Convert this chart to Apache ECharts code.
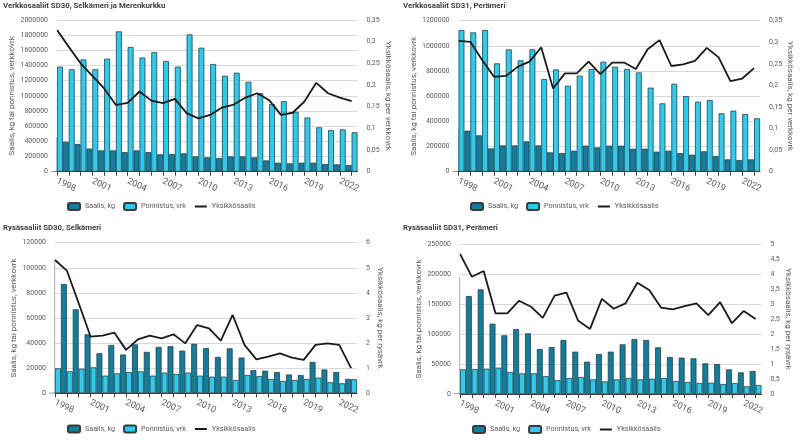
<!DOCTYPE html>
<html><head><meta charset="utf-8">
<script src="https://cdn.jsdelivr.net/npm/echarts@6/dist/echarts.min.js"></script>
<style>html,body{margin:0;padding:0;background:#fff}#c{width:800px;height:441px}</style>
</head><body><div id="c"></div>
<script>
// ---------- data ----------
const years = [1998,1999,2000,2001,2002,2003,2004,2005,2006,2007,2008,2009,2010,2011,2012,2013,2014,2015,2016,2017,2018,2019,2020,2021,2022,2023];
const labelYears = [1998,2001,2004,2007,2010,2013,2016,2019,2022];
const seriesNames = ['Saalis, kg','Ponnistus, vrk','Yksikkösaalis'];

// Verkkosaaliit SD30
const sd30NetCatch  = [453000,395000,365000,305000,281000,281000,259000,281000,259000,229000,233000,242000,202000,189000,180000,202000,202000,189000,149000,119000,110000,119000,119000,101000,97000,88000];
const sd30NetEffort = [1385000,1350000,1480000,1350000,1490000,1850000,1645000,1505000,1575000,1460000,1385000,1810000,1635000,1420000,1265000,1305000,1185000,1035000,890000,930000,790000,715000,585000,550000,558000,520000];
const sd30NetCpue   = [0.327,0.288,0.25,0.221,0.192,0.154,0.159,0.185,0.164,0.158,0.168,0.135,0.123,0.131,0.148,0.155,0.171,0.181,0.165,0.131,0.136,0.162,0.205,0.181,0.171,0.163];

// Verkkosaaliit SD31
const sd31NetCatch  = [340000,326000,289000,185000,209000,209000,241000,209000,154000,148000,167000,207000,193000,207000,207000,183000,183000,159000,167000,148000,135000,162000,125000,98000,93000,98000];
const sd31NetEffort = [1126000,1107000,1126000,861000,972000,885000,972000,736000,813000,683000,763000,816000,874000,834000,816000,789000,668000,543000,699000,601000,556000,570000,464000,485000,458000,424000];
const sd31NetCpue   = [0.303,0.301,0.259,0.220,0.222,0.243,0.255,0.288,0.193,0.228,0.228,0.255,0.226,0.253,0.253,0.238,0.284,0.305,0.245,0.249,0.257,0.287,0.265,0.210,0.216,0.240];

// Rysäsaaliit SD30
const sd30TrapCatch  = [107000,87100,66900,47000,31900,38500,30900,39000,33000,37000,37500,34000,39500,36000,29000,35800,28500,18500,18000,17000,15000,14500,25000,19000,17000,11500];
const sd30TrapEffort = [19900,17500,19600,20700,14100,15900,17000,17500,14100,16500,15400,16500,14100,13300,13300,10600,14600,13800,11400,9800,10600,11400,12500,8800,8000,11200];
const sd30TrapCpue   = [5.31,4.89,3.59,2.26,2.30,2.42,1.73,2.15,2.30,2.19,2.35,1.99,2.72,2.59,2.10,3.12,1.93,1.35,1.46,1.59,1.42,1.33,1.93,1.99,1.93,1.00];

// Rysäsaaliit SD31
const sd31TrapCatch  = [195000,163300,174400,117200,97800,108300,101100,75000,78300,90000,70600,53900,66700,70600,82800,91700,90000,77800,61700,60600,59400,51100,50000,41100,36100,38300];
const sd31TrapEffort = [41100,41700,42200,43900,36700,34400,34400,30000,23300,26700,28300,24400,21100,24400,26700,24400,25600,26700,21700,20000,18300,18900,16700,18300,12800,15000];
const sd31TrapCpue   = [4.67,3.91,4.10,2.69,2.69,3.11,2.91,2.54,3.28,3.38,2.44,2.17,3.17,2.84,3.02,3.71,3.47,2.88,2.82,2.93,3.02,2.63,3.06,2.36,2.77,2.50];

const panels = [
  {title:'Verkkosaaliit SD30, Selkämeri ja Merenkurkku', catch:sd30NetCatch, effort:sd30NetEffort, cpue:sd30NetCpue,
   yName:'Saalis, kg tai ponnistus, verkkovrk', rName:'Yksikkösaalis, kg per verkkovrk', yMax:2000000, yInt:200000, rMax:0.35, rInt:0.05},
  {title:'Verkkosaaliit SD31, Perämeri', catch:sd31NetCatch, effort:sd31NetEffort, cpue:sd31NetCpue,
   yName:'Saalis, kg tai ponnistus, verkkovrk', rName:'Yksikkösaalis, kg per verkkovrk', yMax:1200000, yInt:200000, rMax:0.35, rInt:0.05},
  {title:'Rysäsaaliit SD30, Selkämeri', catch:sd30TrapCatch, effort:sd30TrapEffort, cpue:sd30TrapCpue,
   yName:'Saalis, kg tai ponnistus, verkkovrk', rName:'Yksikkösaalis, kg per rysävrk', yMax:120000, yInt:20000, rMax:6, rInt:1},
  {title:'Rysäsaaliit SD31, Perämeri', catch:sd31TrapCatch, effort:sd31TrapEffort, cpue:sd31TrapCpue,
   yName:'Saalis, kg tai ponnistus, verkkovrk', rName:'Yksikkösaalis, kg per rysävrk', yMax:250000, yInt:50000, rMax:5, rInt:0.5}
];

// ---------- layout / style ----------
const layout = [
  {left:57,  top:20,    width:300.5, height:151.7, tx:3,   ty:2.5,   lx:67,  ly:202, yGap:41, rGap:24},
  {left:458.5,top:20.7, width:301.5, height:151,   tx:403, ty:2.5,   lx:470, ly:202, yGap:39, rGap:22},
  {left:55,  top:242.7, width:302,   height:150.6, tx:3,   ty:224,   lx:67,  ly:424.5, yGap:36, rGap:19},
  {left:460, top:244,   width:301.5, height:150,   tx:403, ty:224.5, lx:472, ly:425, yGap:37, rGap:21}
];
const FONT = 'Roboto, "Liberation Sans", sans-serif';
const GRAY = '#595959';
const DARK = '#0a80a2';
const LIGHT = '#22cff5';
const EDGE = '#3a3a3a';

const grid=[], xAxis=[], yAxis=[], series=[], title=[], legend=[], graphic=[];
const pairs = arr => years.map((y,k)=>[y, arr[k]]);
const comma = v => String(Number(v.toFixed(2))).replace('.', ',');
const legendData = [
  {name:seriesNames[0]},
  {name:seriesNames[1]},
  {name:seriesNames[2], itemStyle:{opacity:0, color:'rgba(0,0,0,0)', borderColor:'rgba(0,0,0,0)', borderWidth:0}}
];

panels.forEach((p,i)=>{
  const L = layout[i];
  grid.push({left:L.left, top:L.top, width:L.width, height:L.height});
  // the plot area starts at the first year's centre (as in the original, "on tick marks"):
  // hide the half of the first cluster that falls left of the plot area
  graphic.push({type:'rect', silent:true, z:100,
    shape:{x:L.left-8, y:L.top-3, width:7.6, height:L.height+2.5},
    style:{fill:'#ffffff'}});
  title.push({text:p.title, left:L.tx, top:L.ty, padding:0,
    textStyle:{fontFamily:FONT, fontSize:7.8, fontWeight:'bold', color:'#404040'}});
  legend.push({data:legendData, left:L.lx, top:L.ly, itemWidth:12, itemHeight:7, itemGap:8, padding:0,
    textStyle:{fontFamily:FONT, fontSize:7.2, color:GRAY}, selectedMode:false});
  xAxis.push({type:'value', gridIndex:i, min:1998, max:2023.5,
    axisLine:{show:true, onZero:false, lineStyle:{color:'#404040', width:1}},
    axisTick:{show:true, customValues:years, length:4, lineStyle:{color:'#404040', width:1}},
    axisLabel:{customValues:labelYears, rotate:-25, margin:9, color:GRAY, fontFamily:FONT, fontSize:9, formatter:v=>String(v)},
    splitLine:{show:false}});
  yAxis.push({type:'value', gridIndex:i, position:'left', min:0, max:p.yMax, interval:p.yInt,
    axisLine:{show:false}, axisTick:{show:false},
    axisLabel:{color:GRAY, fontFamily:FONT, fontSize:7, margin:9, formatter:v=>String(v)},
    splitLine:{show:true, lineStyle:{color:'#d9d9d9', width:1}},
    name:p.yName, nameLocation:'middle', nameGap:L.yGap,
    nameTextStyle:{color:GRAY, fontFamily:FONT, fontSize:8}});
  yAxis.push({type:'value', gridIndex:i, position:'right', min:0, max:p.rMax, interval:p.rInt,
    axisLine:{show:false}, axisTick:{show:false}, splitLine:{show:false},
    axisLabel:{color:GRAY, fontFamily:FONT, fontSize:7, margin:9, formatter:comma},
    name:p.rName, nameLocation:'middle', nameGap:L.rGap, nameRotate:-90,
    nameTextStyle:{color:GRAY, fontFamily:FONT, fontSize:8}});
  series.push({type:'bar', name:seriesNames[0], xAxisIndex:i, yAxisIndex:2*i, data:pairs(p.catch),
    barGap:'0%', barCategoryGap:'0%', clip:true,
    itemStyle:{color:DARK, borderColor:EDGE, borderWidth:0.8}});
  series.push({type:'bar', name:seriesNames[1], xAxisIndex:i, yAxisIndex:2*i, data:pairs(p.effort),
    barGap:'0%', barCategoryGap:'0%', clip:true,
    itemStyle:{color:LIGHT, borderColor:EDGE, borderWidth:0.8}});
  series.push({type:'line', name:seriesNames[2], xAxisIndex:i, yAxisIndex:2*i+1, data:pairs(p.cpue),
    symbol:'none', z:5, lineStyle:{color:'#1a1a1a', width:1.8}, itemStyle:{color:'#1a1a1a'}});
});

const chart = echarts.init(document.getElementById('c'), null, {renderer:'canvas'});
chart.setOption({animation:false, backgroundColor:'#fff', textStyle:{fontFamily:FONT},
  title, legend, grid, xAxis, yAxis, series, graphic});
</script>
</body></html>
